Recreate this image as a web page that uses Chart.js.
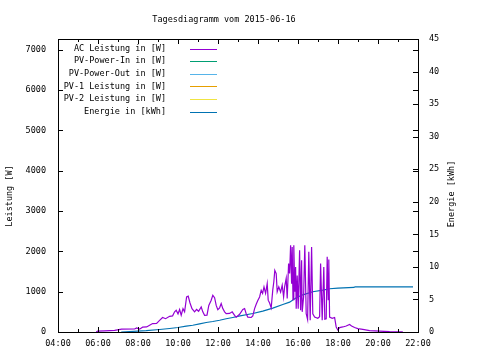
<!DOCTYPE html>
<html><head><meta charset="utf-8">
<script src="https://cdn.jsdelivr.net/npm/chart.js@4"></script>
<style>html,body{margin:0;padding:0;background:#fff}canvas{display:block}</style>
</head><body>
<canvas id="c" width="480" height="360"></canvas>
<script>
const titleText = "Tagesdiagramm vom 2015-06-16";
const leftAxisTitle = "Leistung [W]";
const rightAxisTitle = "Energie [kWh]";
const seriesLabels = ["AC Leistung in [W]", "PV-Power-In in [W]", "PV-Power-Out in [W]", "PV-1 Leistung in [W]", "PV-2 Leistung in [W]", "Energie in [kWh]"];
const seriesColors = ["#9400D3", "#009E73", "#56B4E9", "#E69F00", "#F0E442", "#0072B2"];
const xTickLabels = ["04:00", "06:00", "08:00", "10:00", "12:00", "14:00", "16:00", "18:00", "20:00", "22:00"];
const yTickValues = [0, 1000, 2000, 3000, 4000, 5000, 6000, 7000];
const y2TickValues = [0, 5, 10, 15, 20, 25, 30, 35, 40, 45];

// AC Leistung [W] (hours of day, watts)
const acHours = [5.91,5.98,6.33,6.83,7.18,7.83,7.93,8.08,8.23,8.43,8.58,8.73,8.93,9.08,9.23,9.38,9.58,9.73,9.83,9.91,10.0,10.08,10.16,10.25,10.33,10.43,10.51,10.6,10.7,10.83,10.93,11.03,11.16,11.24,11.33,11.45,11.54,11.66,11.74,11.83,11.91,11.99,12.08,12.16,12.24,12.33,12.41,12.58,12.71,12.83,12.91,13.08,13.24,13.33,13.41,13.49,13.66,13.74,13.83,13.91,13.99,14.08,14.16,14.23,14.3,14.38,14.46,14.51,14.58,14.66,14.74,14.79,14.84,14.91,14.96,15.04,15.13,15.21,15.28,15.33,15.41,15.46,15.53,15.58,15.63,15.68,15.71,15.75,15.79,15.84,15.88,15.91,15.96,16.01,16.08,16.13,16.18,16.21,16.28,16.34,16.41,16.48,16.54,16.61,16.68,16.74,16.83,16.99,17.08,17.13,17.21,17.29,17.34,17.41,17.46,17.51,17.54,17.58,17.71,17.83,17.91,17.99,18.08,18.24,18.41,18.58,18.68,18.83,18.99,19.24,19.58,20.08,20.58,21.24];
const acWatts = [0,20,30,40,70,75,100,70,120,125,170,210,215,290,360,330,390,400,500,540,450,560,415,580,500,870,890,720,580,500,560,515,620,500,415,420,660,790,910,850,660,555,600,705,580,500,455,460,500,415,370,440,560,580,455,370,360,400,580,690,780,870,1035,960,1120,960,1200,790,720,600,1050,1240,1530,1450,1000,1120,990,1160,870,1120,1330,830,1700,1450,2155,1200,2110,800,2155,1000,1615,580,1400,580,2030,540,1780,500,870,2155,455,310,1990,290,2110,450,370,340,380,1700,290,1615,320,330,1865,800,1800,370,340,360,125,50,110,125,150,185,150,110,85,65,35,20,8,5];

// Energie [kWh]
const energyHours = [7.16,8.41,9.08,9.58,10.0,10.41,10.74,11.08,11.41,11.74,12.08,12.41,12.74,13.04,13.74,14.24,14.74,15.24,15.58,15.91,16.24,16.74,17.24,17.58,18.0,18.8,18.85,21.75];
const energyKWh = [0,0.2,0.38,0.54,0.69,0.89,1.04,1.26,1.46,1.61,1.81,2.03,2.23,2.43,2.84,3.2,3.66,4.22,4.58,5.25,5.71,6.18,6.42,6.64,6.73,6.84,6.94,6.94];

const FONT = "'DejaVu Sans Mono', monospace";
const FS = 8.5;

const acData = acHours.map((h, i) => ({x: h, y: acWatts[i]}));
const energyData = energyHours.map((h, i) => ({x: h, y: energyKWh[i]}));

function ds(i, data, axis) {
  return {label: seriesLabels[i], data: data, borderColor: seriesColors[i], backgroundColor: seriesColors[i],
    borderWidth: 1.2, pointRadius: 0, tension: 0, fill: false, yAxisID: axis};
}

const framePlugin = {
  id: 'frame',
  afterDraw(chart) {
    const c = chart.ctx, a = chart.chartArea;
    const sx = chart.scales.x, sy = chart.scales.y, sy2 = chart.scales.y2;
    c.save();
    c.strokeStyle = '#000'; c.lineWidth = 1;
    c.strokeRect(a.left + 0.5, a.top + 0.5, a.right - a.left, a.bottom - a.top);
    c.beginPath();
    for (let h = 4; h <= 22; h++) {
      const px = Math.round(sx.getPixelForValue(h)) + 0.5;
      const len = (h % 2 === 0) ? 5 : 3;
      c.moveTo(px, a.bottom); c.lineTo(px, a.bottom - len);
      c.moveTo(px, a.top); c.lineTo(px, a.top + len);
    }
    sy.ticks.forEach(t => {
      const py = Math.round(sy.getPixelForValue(t.value)) + 0.5;
      c.moveTo(a.left, py); c.lineTo(a.left + 5, py);
      c.moveTo(a.right, py); c.lineTo(a.right - 5, py);
    });
    sy2.ticks.forEach(t => {
      const py = Math.round(sy2.getPixelForValue(t.value)) + 0.5;
      c.moveTo(a.right, py); c.lineTo(a.right - 5, py);
    });
    c.stroke();

    c.fillStyle = '#000';
    c.font = FS + 'px ' + FONT;
    c.textBaseline = 'middle';
    c.textAlign = 'center';
    c.fillText(titleText, 224, 19.5);
    c.save(); c.translate(10, 196); c.rotate(-Math.PI / 2); c.fillText(leftAxisTitle, 0, 0); c.restore();
    c.save(); c.translate(452, 194); c.rotate(-Math.PI / 2); c.fillText(rightAxisTitle, 0, 0); c.restore();
    chart.data.datasets.forEach((d, i) => {
      const y = 48.5 + i * 12.6;
      c.textAlign = 'right';
      c.fillStyle = '#000';
      c.fillText(d.label, 166, y);
      c.strokeStyle = d.borderColor;
      c.beginPath();
      c.moveTo(190, Math.round(y) + 0.5); c.lineTo(217, Math.round(y) + 0.5);
      c.stroke();
    });
    c.restore();
  }
};

new Chart(document.getElementById('c'), {
  type: 'line',
  data: {
    datasets: [
      ds(0, acData, 'y'),
      ds(1, [], 'y'),
      ds(2, [], 'y'),
      ds(3, [], 'y'),
      ds(4, [], 'y'),
      ds(5, energyData, 'y2')
    ]
  },
  options: {
    responsive: false,
    animation: false,
    layout: {padding: {top: 39, left: 0, right: 0, bottom: 0}},
    plugins: {legend: {display: false}, title: {display: false}, tooltip: {enabled: false}},
    scales: {
      x: {
        type: 'linear', min: 4, max: 22,
        grid: {display: false, drawTicks: false}, border: {display: false},
        ticks: {stepSize: 2, autoSkip: false, maxRotation: 0, padding: 7, color: '#000',
          font: {family: FONT, size: FS},
          callback: (v) => xTickLabels[Math.round((v - 4) / 2)]},
        afterFit: s => { s.height = 28; }
      },
      y: {
        type: 'linear', position: 'left', min: 0, max: 7270,
        grid: {display: false, drawTicks: false}, border: {display: false},
        ticks: {padding: 12, color: '#000', font: {family: FONT, size: FS}, callback: v => String(v)},
        afterBuildTicks: s => { s.ticks = yTickValues.map(v => ({value: v})); },
        afterFit: s => { s.width = 58; }
      },
      y2: {
        type: 'linear', position: 'right', min: 0, max: 45,
        grid: {display: false, drawTicks: false}, border: {display: false},
        ticks: {padding: 11, color: '#000', font: {family: FONT, size: FS}, callback: v => String(v)},
        afterBuildTicks: s => { s.ticks = y2TickValues.map(v => ({value: v})); },
        afterFit: s => { s.width = 62; }
      }
    }
  },
  plugins: [framePlugin]
});
</script>
</body></html>
